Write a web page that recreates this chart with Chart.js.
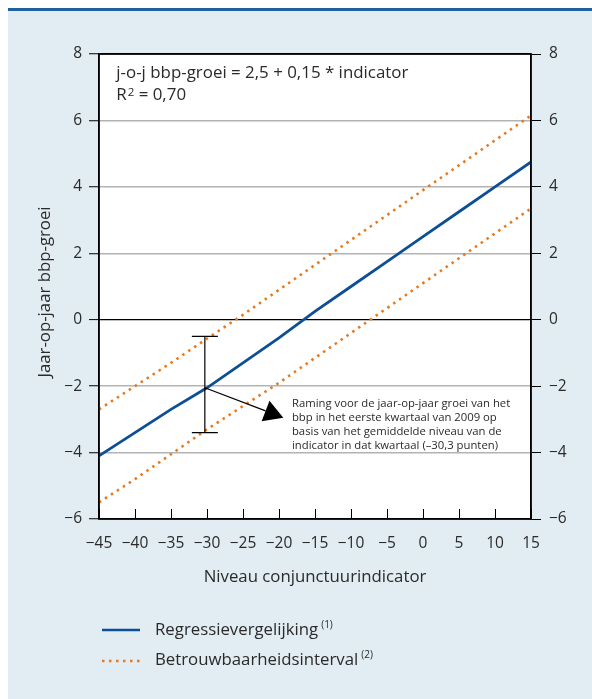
<!DOCTYPE html>
<html>
<head>
<meta charset="utf-8">
<script src="https://cdn.jsdelivr.net/npm/chart.js@4.4.1/dist/chart.umd.min.js"></script>
<style>
  html, body { margin: 0; padding: 0; background: #fff; }
  #wrap { width: 592px; height: 699px; }
</style>
</head>
<body>
<div id="wrap"><canvas id="chart" width="592" height="699"></canvas></div>
<script>
// values
const indicator  = [-45, -40, -35, -30, -25, -20, -15, -10, -5, 0, 5, 10, 15];
const regressie  = [-4.1, -3.4, -2.7, -2.05, -1.3, -0.55, 0.25, 1.0, 1.75, 2.5, 3.25, 4.0, 4.75];
const bovengrens = [-2.7, -2.0, -1.3, -0.57, 0.15, 0.9, 1.65, 2.4, 3.15, 3.9, 4.65, 5.4, 6.15];
const ondergrens = [-5.5, -4.8, -4.05, -3.3, -2.6, -1.9, -1.15, -0.4, 0.35, 1.1, 1.85, 2.6, 3.35];

// forecast for 2009 Q1 (indicator -30.3) with its interval
const ramingX = [-30.3];
const ramingY = [-2.05];
const ramingHoog = [-0.5];
const ramingLaag = [-3.4];

const noteLines = [
  "Raming voor de jaar-op-jaar groei van het",
  "bbp in het eerste kwartaal van 2009 op",
  "basis van het gemiddelde niveau van de",
  "indicator in dat kwartaal (\u201330,3 punten)"
];
const formulaLine = "j-o-j bbp-groei = 2,5 + 0,15 * indicator";

const BLUE = "#0c4f96";
const ORANGE = "#e67a1e";
const TEXT = "#2a2a2a";
const FONT = "'Open Sans', 'Noto Sans', sans-serif";

const pts = (ys) => indicator.map((x, i) => ({ x: x, y: ys[i] }));
const fmt = (v) => (v < 0 ? "\u2212" + Math.abs(v) : String(v));

// background, annotations, titles and legend
const decor = {
  id: "decor",
  beforeDraw(chart) {
    const ctx = chart.ctx, a = chart.chartArea;
    ctx.save();
    ctx.fillStyle = "#ffffff";
    ctx.fillRect(0, 0, chart.width, chart.height);
    ctx.fillStyle = "#e2ecf3";
    ctx.fillRect(8, 11, chart.width - 8, chart.height - 11);
    ctx.fillStyle = "#21609f";
    ctx.fillRect(8, 8, chart.width - 8, 3);
    ctx.fillStyle = "#ffffff";
    ctx.fillRect(a.left, a.top, a.right - a.left, a.bottom - a.top);
    ctx.restore();
  },
  afterDatasetsDraw(chart) {
    const ctx = chart.ctx, a = chart.chartArea;
    const xs = chart.scales.x, ys = chart.scales.y;
    ctx.save();

    // inward ticks along the bottom
    ctx.strokeStyle = "#000";
    ctx.lineWidth = 1;
    xs.ticks.forEach((t) => {
      const px = Math.round(xs.getPixelForValue(t.value)) + 0.5;
      ctx.beginPath();
      ctx.moveTo(px, a.bottom);
      ctx.lineTo(px, a.bottom - 10);
      ctx.stroke();
    });

    // frame
    ctx.lineWidth = 1.5;
    ctx.strokeRect(a.left, a.top, a.right - a.left, a.bottom - a.top);

    // interval bar
    const bx = xs.getPixelForValue(ramingX[0]);
    const hy = ys.getPixelForValue(ramingHoog[0]);
    const ly = ys.getPixelForValue(ramingLaag[0]);
    ctx.lineWidth = 1.2;
    ctx.beginPath();
    ctx.moveTo(bx, hy); ctx.lineTo(bx, ly);
    ctx.moveTo(bx - 13, hy); ctx.lineTo(bx + 13, hy);
    ctx.moveTo(bx - 13, ly); ctx.lineTo(bx + 13, ly);
    ctx.stroke();

    // arrow towards the note
    const sx = bx, sy = ys.getPixelForValue(ramingY[0]);
    const ex = xs.getPixelForValue(-19.4), ey = ys.getPixelForValue(-2.95);
    const ang = Math.atan2(ey - sy, ex - sx);
    const hl = 19, hw = 11;
    const baseX = ex - hl * Math.cos(ang), baseY = ey - hl * Math.sin(ang);
    ctx.beginPath();
    ctx.moveTo(sx, sy); ctx.lineTo(baseX, baseY);
    ctx.stroke();
    ctx.fillStyle = "#000";
    ctx.beginPath();
    ctx.moveTo(ex, ey);
    ctx.lineTo(baseX + hw * Math.sin(ang), baseY - hw * Math.cos(ang));
    ctx.lineTo(baseX - hw * Math.sin(ang), baseY + hw * Math.cos(ang));
    ctx.closePath();
    ctx.fill();

    // note text
    ctx.fillStyle = TEXT;
    ctx.font = "11.3px " + FONT;
    ctx.textAlign = "left";
    ctx.textBaseline = "middle";
    const nx = xs.getPixelForValue(-18.2), ny = ys.getPixelForValue(-2.53);
    noteLines.forEach((l, i) => ctx.fillText(l, nx, ny + i * 14));

    // regression formula and R2
    ctx.font = "16.9px " + FONT;
    const fx = xs.getPixelForValue(-42.6), fy = ys.getPixelForValue(7.42);
    ctx.fillText(formulaLine, fx, fy);
    const ry = fy + 22;
    ctx.fillText("R", fx, ry);
    let w = ctx.measureText("R").width;
    ctx.font = "11.5px " + FONT;
    ctx.fillText("2", fx + w + 1, ry - 3);
    w += 1 + ctx.measureText("2").width;
    ctx.font = "16.9px " + FONT;
    ctx.fillText(" = 0,70", fx + w, ry);
    ctx.restore();
  },
  afterDraw(chart) {
    const ctx = chart.ctx, a = chart.chartArea;
    ctx.save();
    ctx.fillStyle = TEXT;
    ctx.font = "16.8px " + FONT;
    ctx.textBaseline = "middle";
    ctx.textAlign = "center";
    ctx.fillText("Niveau conjunctuurindicator", (a.left + a.right) / 2, 577);
    ctx.translate(45, 292);
    ctx.rotate(-Math.PI / 2);
    ctx.fillText("Jaar-op-jaar bbp-groei", 0, 0);
    ctx.restore();

    // legend
    ctx.save();
    ctx.lineWidth = 2.5;
    ctx.strokeStyle = BLUE;
    ctx.beginPath(); ctx.moveTo(102, 630); ctx.lineTo(140, 630); ctx.stroke();
    ctx.strokeStyle = ORANGE;
    ctx.setLineDash([2.5, 4.5]);
    ctx.beginPath(); ctx.moveTo(102, 661); ctx.lineTo(140, 661); ctx.stroke();
    ctx.setLineDash([]);
    ctx.fillStyle = TEXT;
    ctx.textBaseline = "middle";
    ctx.textAlign = "left";
    const items = [["Regressievergelijking", "(1)", 630], ["Betrouwbaarheidsinterval", "(2)", 660]];
    items.forEach(([label, sup, y]) => {
      ctx.font = "16.8px " + FONT;
      ctx.fillText(label, 155, y);
      const w = ctx.measureText(label).width;
      ctx.font = "10px " + FONT;
      ctx.fillText(sup, 155 + w + 3, y - 5);
    });
    ctx.restore();
  }
};

const gridColor = (c) => {
  const v = c.tick && c.tick.value;
  if (v === 0 || v === 8 || v === -6) return "#000";
  return "#b3b3b3";
};

new Chart(document.getElementById("chart"), {
  type: "line",
  data: {
    datasets: [
      {
        label: "Regressievergelijking",
        data: pts(regressie),
        borderColor: BLUE,
        borderWidth: 2.8,
        pointRadius: 0,
        tension: 0
      },
      {
        label: "Betrouwbaarheidsinterval",
        data: pts(bovengrens),
        borderColor: ORANGE,
        borderWidth: 2.6,
        borderDash: [2.5, 4.6],
        pointRadius: 0,
        tension: 0
      },
      {
        label: "Betrouwbaarheidsinterval (onder)",
        data: pts(ondergrens),
        borderColor: ORANGE,
        borderWidth: 2.6,
        borderDash: [2.5, 4.6],
        pointRadius: 0,
        tension: 0
      }
    ]
  },
  options: {
    responsive: false,
    animation: false,
    layout: { padding: { left: 0, right: 0, top: 54, bottom: 0 } },
    plugins: { legend: { display: false }, tooltip: { enabled: false } },
    scales: {
      x: {
        type: "linear",
        min: -45,
        max: 15,
        grid: { display: false, drawTicks: false },
        border: { display: false },
        ticks: {
          stepSize: 5,
          padding: 15,
          color: TEXT,
          maxRotation: 0,
          font: { family: FONT, size: 15.5 },
          callback: fmt
        },
        afterFit: (s) => { s.height = 180; }
      },
      y: {
        position: "left",
        min: -6,
        max: 8,
        grid: {
          color: gridColor,
          lineWidth: (c) => (c.tick && c.tick.value === 0 ? 1.2 : 1.5),
          tickColor: "#000",
          tickLength: 10,
          tickWidth: 1
        },
        border: { color: "#000", width: 1.5 },
        ticks: {
          stepSize: 2,
          padding: 7,
          color: TEXT,
          font: { family: FONT, size: 15.5 },
          callback: fmt
        },
        afterFit: (s) => { s.width = 99; }
      },
      y2: {
        position: "right",
        min: -6,
        max: 8,
        grid: { drawOnChartArea: false, tickColor: "#000", tickLength: 10, tickWidth: 1 },
        border: { color: "#000", width: 1.5 },
        ticks: {
          stepSize: 2,
          padding: 8,
          color: TEXT,
          font: { family: FONT, size: 15.5 },
          callback: fmt
        },
        afterFit: (s) => { s.width = 61; }
      }
    }
  },
  plugins: [decor]
});
</script>
</body>
</html>
